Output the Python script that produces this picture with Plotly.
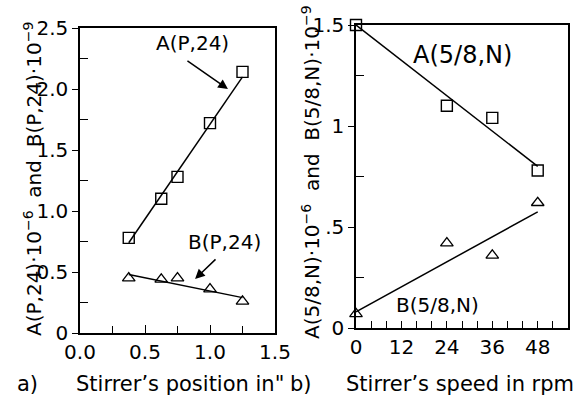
import plotly.graph_objects as go

# Panel a) data
pos_A = [0.375, 0.625, 0.75, 1.0, 1.25]
A_pos = [0.78, 1.10, 1.28, 1.72, 2.14]
pos_B = [0.375, 0.625, 0.75, 1.0, 1.25]
B_pos = [0.45, 0.44, 0.45, 0.36, 0.26]
fitA_pos_x = [0.375, 1.25]
fitA_pos_y = [0.74, 2.10]
fitB_pos_x = [0.375, 1.25]
fitB_pos_y = [0.48, 0.29]

# Panel b) data
spd = [0, 24, 36, 48]
A_spd = [1.50, 1.10, 1.04, 0.78]
B_spd = [0.07, 0.42, 0.36, 0.62]
fitA_spd_x = [0, 48]
fitA_spd_y = [1.50, 0.80]
fitB_spd_x = [0, 48]
fitB_spd_y = [0.08, 0.575]

FONT = "DejaVu Sans"
W, H = 584, 396

def px(x):
    return x / W

def py(y):
    return 1 - y / H

fig = go.Figure()
line = dict(color="black", width=1.5)
sq = dict(symbol="square-open", size=11, color="black", line=dict(width=1.4, color="black"))
tri = dict(symbol="triangle-up-open", size=11, color="black", line=dict(width=1.3, color="black"))

fig.add_trace(go.Scatter(x=fitA_pos_x, y=fitA_pos_y, mode="lines", line=line, xaxis="x", yaxis="y"))
fig.add_trace(go.Scatter(x=fitB_pos_x, y=fitB_pos_y, mode="lines", line=line, xaxis="x", yaxis="y"))
fig.add_trace(go.Scatter(x=pos_A, y=A_pos, mode="markers", marker=sq, xaxis="x", yaxis="y", cliponaxis=False))
fig.add_trace(go.Scatter(x=pos_B, y=B_pos, mode="markers", marker=tri, xaxis="x", yaxis="y", cliponaxis=False))

fig.add_trace(go.Scatter(x=fitA_spd_x, y=fitA_spd_y, mode="lines", line=line, xaxis="x2", yaxis="y2"))
fig.add_trace(go.Scatter(x=fitB_spd_x, y=fitB_spd_y, mode="lines", line=line, xaxis="x2", yaxis="y2"))
fig.add_trace(go.Scatter(x=spd, y=A_spd, mode="markers", marker=sq, xaxis="x2", yaxis="y2", cliponaxis=False))
fig.add_trace(go.Scatter(x=spd, y=B_spd, mode="markers", marker=tri, xaxis="x2", yaxis="y2", cliponaxis=False))

axcommon = dict(showline=True, linecolor="black", linewidth=1.5, mirror=True, showgrid=False,
                zeroline=False, automargin=False, tickfont=dict(family=FONT, size=20, color="black"),
                tickcolor="black", tickwidth=1.3)

fig.update_layout(
    template="none",
    width=W, height=H, margin=dict(l=0, r=0, t=0, b=0, pad=0),
    paper_bgcolor="white", plot_bgcolor="white", showlegend=False,
    xaxis=dict(axcommon, domain=[px(80), px(275)], range=[0, 1.5], anchor="y",
               tickvals=[0, 0.5, 1.0, 1.5], ticktext=["0.0", "0.5", "1.0", "1.5"],
               ticks="inside", ticklen=8,
               minor=dict(tickvals=[0.25, 0.75, 1.25], ticks="inside", ticklen=7, tickcolor="black", tickwidth=1.3)),
    yaxis=dict(axcommon, domain=[py(333), py(28)], range=[0, 2.5], anchor="x",
               tickvals=[0, 0.5, 1.0, 1.5, 2.0, 2.5], ticktext=["0", "0.5", "1.0", "1.5", "2.0", "2.5"],
               ticks="outside", ticklen=6,
               minor=dict(tickvals=[0.25, 0.75, 1.25, 1.75, 2.25], ticks="inside", ticklen=8, tickcolor="black", tickwidth=1.3)),
    xaxis2=dict(axcommon, domain=[px(356), px(568)], range=[0, 56], anchor="y2",
                tickvals=[0, 12, 24, 36, 48], ticktext=["0", "12", "24", "36", "48"],
                ticks="inside", ticklen=7,
                minor=dict(tickvals=[4, 8, 16, 20, 28, 32, 40, 44, 52], ticks="inside", ticklen=7, tickcolor="black", tickwidth=1.3)),
    yaxis2=dict(axcommon, domain=[py(328), py(25)], range=[0, 1.5], anchor="x2",
                tickvals=[0, 0.5, 1.0, 1.5], ticktext=["0", ".5", "1", "1.5"],
                ticks="outside", ticklen=6,
                minor=dict(tickvals=[0.25, 0.75, 1.25], ticks="inside", ticklen=8, tickcolor="black", tickwidth=1.3)),
)

tf = dict(family=FONT, size=20, color="black")
tfx = dict(family=FONT, size=21, color="black")
C = dict(xanchor="center", yanchor="middle", showarrow=False)
ann = []
# text labels
ann.append(dict(C, x=0.862, y=2.377, xref="x", yref="y", text="A(P,24)", font=tf))
ann.append(dict(C, x=1.108, y=0.746, xref="x", yref="y", text="B(P,24)", font=tf))
ann.append(dict(C, x=28.0, y=1.351, xref="x2", yref="y2", text="A(5/8,N)", font=dict(tf, size=24)))
ann.append(dict(C, x=21.4, y=0.114, xref="x2", yref="y2", text="B(5/8,N)", font=tf))
# arrows
ann.append(dict(x=1.138, y=2.0, ax=0.815, ay=2.24, xref="x", yref="y", axref="x", ayref="y",
                text="", showarrow=True, arrowhead=2, arrowsize=1.3, arrowwidth=1.5, arrowcolor="black"))
ann.append(dict(x=0.885, y=0.443, ax=1.054, ay=0.615, xref="x", yref="y", axref="x", ayref="y",
                text="", showarrow=True, arrowhead=2, arrowsize=1.3, arrowwidth=1.5, arrowcolor="black"))
# axis titles
ann.append(dict(C, x=px(33), y=py(179), xref="paper", yref="paper", textangle=-90, font=tf,
                text="A(P,24)·10<sup>−6</sup>  and  B(P,24)·10<sup>−9</sup>"))
ann.append(dict(C, x=px(311), y=py(172), xref="paper", yref="paper", textangle=-90, font=tf,
                text="A(5/8,N)·10<sup>−6</sup>  and  B(5/8,N)·10<sup>−9</sup>"))
ann.append(dict(C, x=px(180), y=py(384), xref="paper", yref="paper", font=tfx,
                text="Stirrer’s position in\""))
ann.append(dict(C, x=px(27), y=py(384), xref="paper", yref="paper", font=tfx, text="a)"))
ann.append(dict(C, x=px(460), y=py(384), xref="paper", yref="paper", font=tfx,
                text="Stirrer’s speed in rpm"))
ann.append(dict(C, x=px(301), y=py(384), xref="paper", yref="paper", font=tfx, text="b)"))
fig.update_layout(annotations=ann)

fig.write_html("out.html")
